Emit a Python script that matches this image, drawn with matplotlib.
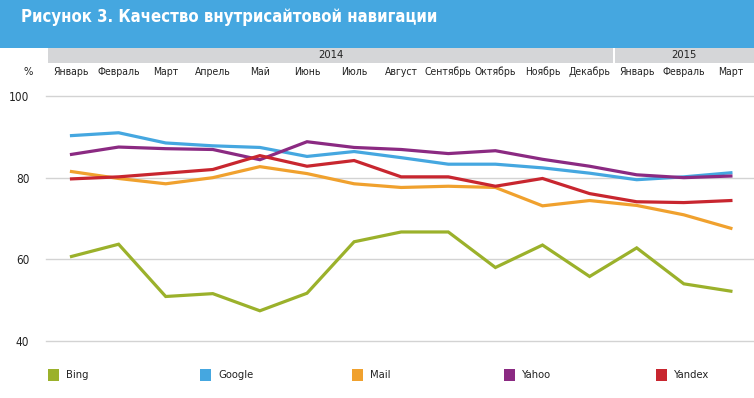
import matplotlib
matplotlib.use("Agg")
import matplotlib.pyplot as plt
from matplotlib.patches import Rectangle
import numpy as np

plt.rcParams['font.family'] = ['DejaVu Sans']
plt.rcParams['font.stretch'] = 'condensed'

title = "Рисунок 3. Качество внутрисайтовой навигации"
months = ["Январь", "Февраль", "Март", "Апрель", "Май", "Июнь", "Июль", "Август",
          "Сентябрь", "Октябрь", "Ноябрь", "Декабрь", "Январь", "Февраль", "Март"]
years = ["2014", "2015"]
year_counts = [12, 3]

bing = [60.7, 63.7, 50.9, 51.6, 47.4, 51.7, 64.3, 66.7, 66.7, 58.0, 63.5, 55.8, 62.8, 54.0, 52.2]
google = [90.3, 91.0, 88.5, 87.8, 87.4, 85.2, 86.4, 84.9, 83.3, 83.3, 82.4, 81.1, 79.5, 80.2, 81.2]
mail = [81.5, 79.8, 78.5, 80.0, 82.7, 81.0, 78.5, 77.6, 77.9, 77.6, 73.1, 74.4, 73.2, 70.9, 67.6]
yahoo = [85.7, 87.5, 87.1, 86.9, 84.4, 88.8, 87.4, 86.9, 85.9, 86.6, 84.5, 82.8, 80.7, 80.0, 80.4]
yandex = [79.7, 80.2, 81.1, 82.0, 85.4, 82.8, 84.2, 80.2, 80.2, 77.9, 79.8, 76.1, 74.1, 73.9, 74.4]

series_names = ["Bing", "Google", "Mail", "Yahoo", "Yandex"]
series_values = [bing, google, mail, yahoo, yandex]
colors = ["#9BB12B", "#45A7E0", "#F0A12E", "#8B2A82", "#C8262F"]
yticks = [40, 60, 80, 100]

W, H = 754, 398
fig = plt.figure(figsize=(W / 100, H / 100), dpi=100)

def fx(px):
    return px / W

def fy(py):
    return 1 - py / H

# header
fig.patches.append(Rectangle((0, fy(47.5)), 1, 47.5 / H, transform=fig.transFigure,
                             facecolor="#45A7E0", edgecolor="none", zorder=0))
fig.text(fx(21), fy(17), title, color="white", fontsize=12, fontweight="bold",
         va="center", ha="left")

# axes
x0, dx = 71.5, 47.1
ax_left, ax_right = 46, 754
ax_top, ax_bot = 96, 341
ax = fig.add_axes([fx(ax_left), fy(ax_bot), (ax_right - ax_left) / W, (ax_bot - ax_top) / H])
n = len(months)
x = np.arange(n)
ax.set_xlim((ax_left - x0) / dx, (ax_right - x0) / dx)
ax.set_ylim(40, 100)

for v in yticks:
    ax.axhline(v, color="#D3D3D3", lw=1.0, zorder=1, clip_on=False)

for name, vals, c in zip(series_names, series_values, colors):
    ax.plot(x, vals, color=c, lw=2.3, zorder=3, solid_joinstyle="miter")

ax.set_yticks(yticks)
ax.set_yticklabels([str(v) for v in yticks], fontsize=8.5, color="#222222")
ax.tick_params(axis="y", length=0, pad=12)
ax.set_xticks([])
for s in ax.spines.values():
    s.set_visible(False)
ax.patch.set_alpha(0)

# year band
band_top, band_bot = 48, 63
start = 0
for yr, cnt in zip(years, year_counts):
    left_i = start - 0.5
    right_i = start + cnt - 0.5
    lp = max(ax_left, x0 + left_i * dx)
    rp = min(ax_right, x0 + right_i * dx)
    if start > 0:
        lp += 1.5
    fig.patches.append(Rectangle((fx(lp), fy(band_bot)), (rp - lp) / W, (band_bot - band_top) / H,
                                 transform=fig.transFigure, facecolor="#D5D6D8",
                                 edgecolor="none", zorder=0))
    fig.text(fx((lp + rp) / 2), fy((band_top + band_bot) / 2), yr, fontsize=8,
             color="#222222", ha="center", va="center")
    start += cnt

# month labels
for i, m in enumerate(months):
    fig.text(fx(x0 + i * dx), fy(72), m, fontsize=7.5, color="#222222",
             ha="center", va="center")
fig.text(fx(28), fy(72), "%", fontsize=8, color="#222222", ha="center", va="center")

# legend
for k, (name, c) in enumerate(zip(series_names, colors)):
    lx = 48 + k * 152
    fig.patches.append(Rectangle((fx(lx), fy(381)), 11 / W, 12 / H, transform=fig.transFigure,
                                 facecolor=c, edgecolor="none"))
    fig.text(fx(lx + 18), fy(375), name, fontsize=8, color="#222222",
             ha="left", va="center")

fig.savefig("out.png", dpi=100)
